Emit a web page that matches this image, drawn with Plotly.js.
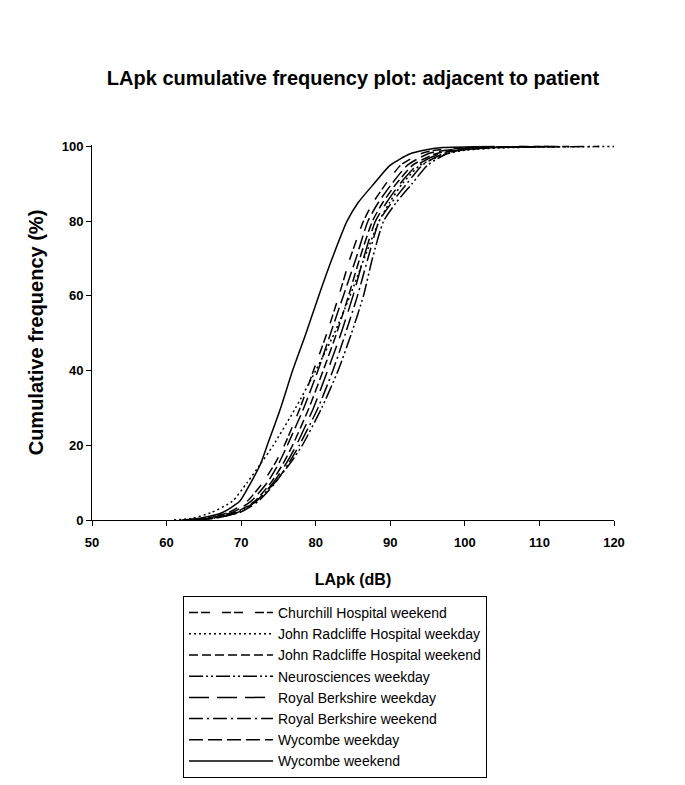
<!DOCTYPE html>
<html>
<head>
<meta charset="utf-8">
<script src="https://cdn.plot.ly/plotly-3.0.1.min.js"></script>
<style>html,body{margin:0;padding:0;background:#fff;}#chart{width:685px;height:785px;}</style>
</head>
<body>
<div id="chart"></div>
<script>
// Cumulative frequency levels (%)
const cumFreq = [0, 0.5, 2, 5, 10, 15, 20, 30, 40, 50, 60, 70, 80, 85, 90, 95, 98, 99, 99.7, 100];

// LApk (dB) at each cumulative level
const churchillWeekend   = [62.5, 65.0, 68.3, 70.8, 72.9, 74.5, 75.8, 77.9, 79.7, 81.5, 83.1, 84.6, 86.4, 87.7, 89.4, 91.4, 94.0, 96.0, 100.0, 108.0];
const jrWeekday          = [61.0, 63.5, 66.0, 68.8, 70.8, 72.6, 74.3, 77.3, 80.0, 82.5, 84.6, 86.5, 88.5, 89.9, 91.6, 94.0, 97.5, 100.0, 106.0, 120.0];
const jrWeekend          = [63.0, 66.0, 69.2, 71.8, 74.0, 75.6, 76.9, 79.1, 81.0, 82.8, 84.4, 85.9, 87.6, 89.0, 90.8, 93.0, 96.0, 98.5, 103.0, 114.0];
const neuroWeekday       = [64.0, 66.5, 69.5, 72.0, 74.5, 76.5, 78.2, 80.8, 83.0, 84.8, 86.4, 87.6, 89.1, 90.8, 92.9, 95.0, 97.5, 99.5, 103.0, 112.0];
const rbWeekday          = [63.5, 66.3, 69.5, 72.0, 74.3, 76.0, 77.4, 79.7, 81.6, 83.4, 85.0, 86.4, 88.0, 89.5, 91.3, 93.6, 96.5, 98.8, 102.0, 112.0];
const rbWeekend          = [63.5, 66.5, 69.8, 72.3, 74.6, 76.3, 77.8, 80.3, 82.3, 84.0, 85.6, 87.0, 88.5, 90.2, 92.2, 94.3, 97.0, 99.5, 104.0, 118.0];
const wycombeWeekday     = [63.0, 65.5, 68.8, 71.3, 73.5, 75.0, 76.2, 78.4, 80.3, 82.0, 83.7, 85.4, 87.0, 88.4, 90.2, 92.3, 95.0, 97.5, 101.0, 110.0];
const wycombeWeekend     = [62.0, 64.5, 67.5, 69.8, 71.3, 72.6, 73.5, 75.3, 76.9, 78.7, 80.4, 82.2, 84.2, 85.7, 87.8, 90.0, 92.6, 94.5, 97.0, 104.0];

const seriesNames = [
  "Churchill Hospital weekend",
  "John Radcliffe Hospital weekday",
  "John Radcliffe Hospital weekend",
  "Neurosciences weekday",
  "Royal Berkshire weekday",
  "Royal Berkshire weekend",
  "Wycombe weekday",
  "Wycombe weekend"
];
const seriesValues = [churchillWeekend, jrWeekday, jrWeekend, neuroWeekday, rbWeekday, rbWeekend, wycombeWeekday, wycombeWeekend];
const dashes = [
  "9px,3px,9px,12px",
  "2px,3px",
  "9px,4px",
  "14px,3px,2px,3px,2px,3px",
  "20px,8px",
  "14px,4px,2px,4px",
  "14px,5px",
  "solid"
];

const traces = seriesNames.map((n, i) => ({
  type: 'scatter',
  mode: 'lines',
  name: n,
  x: seriesValues[i],
  y: cumFreq,
  line: {color: '#000', width: 1.5, dash: dashes[i], shape: 'spline', smoothing: 0.6}
}));

const font = 'Liberation Sans, Arial, sans-serif';
const layout = {
  width: 685, height: 785,
  paper_bgcolor: '#fff', plot_bgcolor: '#fff',
  margin: {l: 92, r: 71, t: 145, b: 265},
  font: {family: font, color: '#000'},
  title: {text: '<b>LApk cumulative frequency plot: adjacent to patient</b>', font: {size: 20, family: font, color: '#000'},
          x: 0.5, xref: 'paper', y: 1 - 78/785, yref: 'container', yanchor: 'middle'},
  xaxis: {
    range: [50, 120], dtick: 10, tick0: 50, showgrid: false, zeroline: false,
    showline: true, linecolor: '#000', linewidth: 1,
    ticks: 'outside', ticklen: 5, tickcolor: '#000', ticklabelstandoff: 5,
    tickfont: {size: 13, family: font, color: '#000', weight: 'bold'},
    title: {text: '<b>LApk (dB)</b>', font: {size: 16, family: font, color: '#000'}, standoff: 25}
  },
  yaxis: {
    range: [0, 100.4], tickvals: [0, 20, 40, 60, 80, 100], showgrid: false, zeroline: false,
    showline: true, linecolor: '#000', linewidth: 1,
    ticks: 'outside', ticklen: 5, tickcolor: '#000',
    tickfont: {size: 13, family: font, color: '#000', weight: 'bold'},
    title: {text: '<b>Cumulative frequency (%)</b>', font: {size: 20, family: font, color: '#000'}, standoff: 12}
  },
  showlegend: true,
  legend: {
    x: (183 - 92) / 522, xref: 'paper', y: 1 - 596 / 785, yref: 'container', xanchor: 'left', yanchor: 'top',
    bordercolor: '#000', borderwidth: 1, bgcolor: '#fff',
    font: {size: 14, family: font, color: '#000'},
    itemwidth: 84, tracegroupgap: 0
  }
};

Plotly.newPlot('chart', traces, layout, {displayModeBar: false, staticPlot: true});
</script>
</body>
</html>
